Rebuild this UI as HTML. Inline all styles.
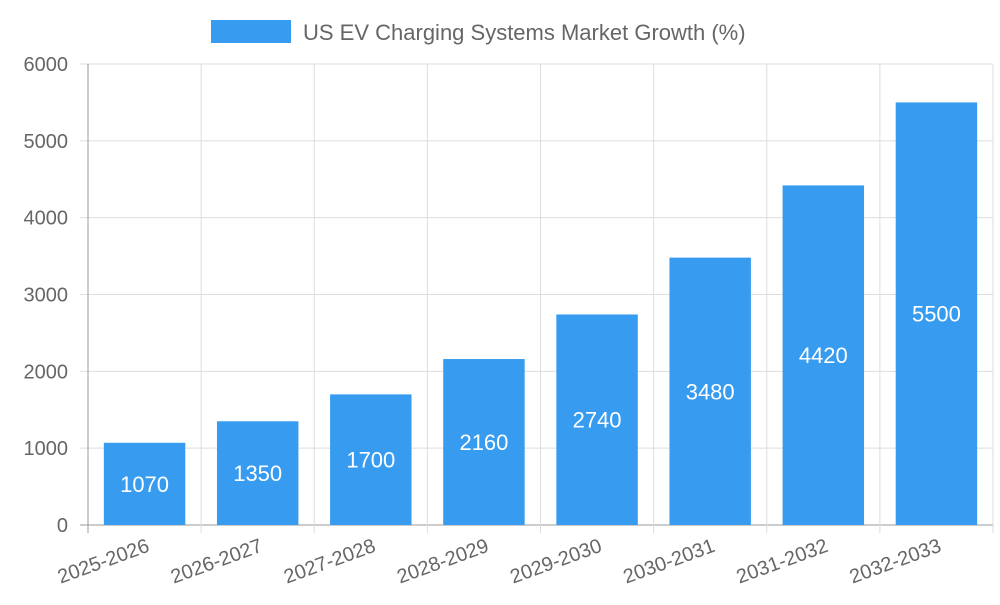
<!DOCTYPE html>
<html><head><meta charset="utf-8"><style>
body{margin:0;background:#fff;font-family:"Liberation Sans",sans-serif}
</style></head><body>
<svg id="chart" width="1000" height="600" xmlns="http://www.w3.org/2000/svg" font-family="Liberation Sans, sans-serif">
<g>
<rect x="211" y="20" width="80" height="23" fill="#379cf0"/>
<text x="303" y="40" font-size="22" fill="#666">US EV Charging Systems Market Growth (%)</text>
</g>
<g id="grid"></g>
<g id="bars"></g>
<g id="axes"></g>
</svg>
<script>
const categories=["2025-2026","2026-2027","2027-2028","2028-2029","2029-2030","2030-2031","2031-2032","2032-2033"];
const values=[1070,1350,1700,2160,2740,3480,4420,5500];
const yTicks=[0,1000,2000,3000,4000,5000,6000];
const NS="http://www.w3.org/2000/svg";
const L=88,R=993,T=64,B=525,yMax=6000;
const band=(R-L)/categories.length;
const y=v=>B-(v/yMax)*(B-T);
const x=i=>L+i*band;
function mk(tag,attrs,parent,txt){const e=document.createElementNS(NS,tag);for(const k in attrs)e.setAttribute(k,attrs[k]);if(txt!==undefined)e.textContent=txt;parent.appendChild(e);return e;}
const grid=document.getElementById('grid'),bars=document.getElementById('bars'),axes=document.getElementById('axes');
yTicks.forEach(t=>{
 const l=mk('line',{x1:L-8,x2:R,y1:y(t),y2:y(t),stroke:t===0?'#999':'#ddd','stroke-width':1},grid);
 
 
 const tx=mk('text',{x:L-20,y:y(t)+7,'text-anchor':'end','font-size':20,fill:'#666'},axes,String(t));
 
 
});
for(let i=0;i<=categories.length;i++){
 const l=mk('line',{x1:x(i),x2:x(i),y1:T,y2:B+8,stroke:i===0?'#999':'#ddd','stroke-width':1},grid);
 
 
}
categories.forEach((c,i)=>{
 const bw=band*0.72,bx=x(i)+(band-bw)/2;
 const r=mk('rect',{x:bx,y:y(values[i]),width:bw,height:B-y(values[i]),fill:'#379cf0'},bars);
 
 
 const v=mk('text',{x:bx+bw/2,y:(y(values[i])+B)/2+8,'text-anchor':'middle','font-size':22,fill:'#fff'},bars,String(values[i]));
 
 
 const cx=x(i)+band/2+6,cy=B+26;
 const t=mk('text',{x:cx,y:cy,'text-anchor':'end','font-size':20,fill:'#666',transform:`rotate(-20 ${cx} ${cy})`},axes,c);
 
 
});
</script>
</body></html>
